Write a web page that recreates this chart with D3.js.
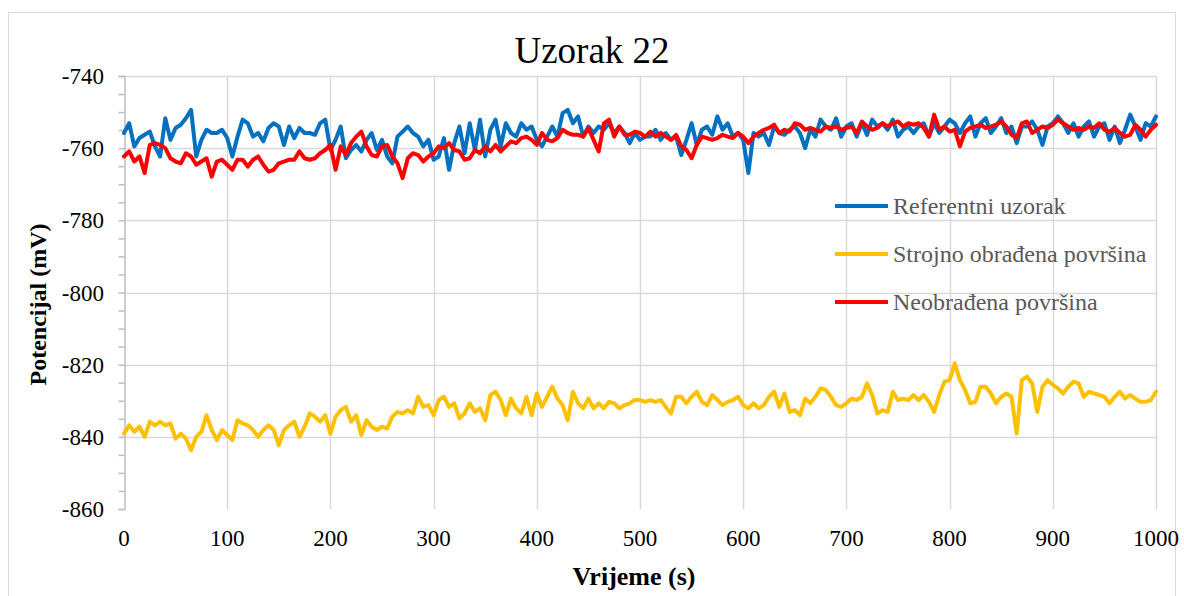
<!DOCTYPE html>
<html>
<head>
<meta charset="utf-8">
<script src="https://cdn.jsdelivr.net/npm/d3@7"></script>
<style>
  html, body { margin: 0; padding: 0; background: #fff; }
  svg { display: block; }
</style>
</head>
<body>
<svg id="chart" width="1184" height="596"></svg>
<script>
// Time axis: one reading every 5 s from 0 to 1000 s
const times = d3.range(0, 1001, 5);

const xTicks = [0, 100, 200, 300, 400, 500, 600, 700, 800, 900, 1000];
const yTicks = [-740, -760, -780, -800, -820, -840, -860];

const seriesNames = ["Referentni uzorak", "Strojno obrađena površina", "Neobrađena površina"];

// Referentni uzorak (mV)
const referentni = [
  -755.8,-753.1,-759.5,-757.2,-756.3,-755.4,-759.5,-762.3,-751.7,-757.7,
  -754.4,-753.5,-751.7,-749.4,-762.3,-757.7,-754.9,-755.8,-755.8,-754.9,
  -757.2,-762.3,-756.8,-752.1,-753.1,-756.8,-755.8,-758.1,-754.4,-753.1,
  -754.0,-759.1,-754.0,-757.2,-754.4,-755.8,-755.8,-756.3,-753.1,-752.1,
  -760.5,-757.7,-754.0,-762.8,-760.5,-759.1,-760.9,-757.7,-755.8,-760.5,
  -757.7,-762.3,-764.2,-756.8,-755.4,-754.0,-755.8,-756.8,-759.5,-757.7,
  -763.2,-762.3,-757.2,-766.0,-758.6,-754.0,-761.4,-753.1,-760.5,-752.1,
  -762.3,-754.9,-752.1,-759.5,-753.1,-755.8,-756.8,-753.1,-754.9,-754.0,
  -757.7,-759.5,-756.8,-754.0,-756.8,-750.3,-749.4,-753.1,-751.2,-756.8,
  -754.0,-755.8,-754.0,-754.9,-753.1,-755.8,-754.0,-755.8,-758.6,-755.8,
  -757.7,-756.8,-756.8,-754.9,-757.7,-755.8,-757.7,-756.8,-761.9,-757.7,
  -753.1,-759.1,-754.9,-754.0,-756.3,-751.2,-754.9,-753.1,-756.8,-755.8,
  -757.7,-766.9,-755.8,-756.8,-755.8,-759.1,-754.0,-755.8,-756.3,-754.9,
  -754.0,-755.8,-760.0,-754.9,-756.8,-752.1,-754.0,-754.9,-751.7,-756.8,
  -754.0,-753.1,-756.8,-753.1,-756.3,-752.1,-754.0,-753.1,-754.9,-752.1,
  -756.8,-754.9,-754.0,-755.8,-754.0,-753.1,-756.8,-753.1,-755.8,-754.0,
  -752.1,-753.1,-755.8,-753.1,-751.2,-756.8,-753.1,-751.7,-755.8,-754.0,
  -751.7,-755.8,-754.0,-758.6,-754.0,-754.0,-752.6,-754.9,-759.1,-754.0,
  -753.1,-751.2,-753.1,-755.8,-753.1,-756.8,-754.0,-752.6,-756.8,-754.0,
  -753.1,-757.7,-754.0,-758.6,-754.9,-750.7,-754.0,-757.7,-753.1,-754.0,
  -751.2
];

// Strojno obrađena površina (mV)
const strojno = [
  -839.1,-836.8,-838.6,-837.2,-840.0,-835.8,-836.8,-835.8,-836.8,-836.3,
  -840.5,-839.1,-840.5,-843.7,-840.0,-838.6,-834.0,-838.1,-840.9,-838.1,
  -839.5,-840.9,-835.4,-836.3,-836.8,-838.1,-840.0,-838.1,-836.8,-838.1,
  -842.3,-838.1,-836.8,-835.8,-840.0,-837.2,-833.5,-834.4,-835.8,-834.0,
  -839.1,-834.4,-832.6,-831.7,-835.8,-834.0,-839.5,-835.4,-837.2,-838.1,
  -837.2,-837.7,-834.4,-833.1,-833.5,-832.6,-833.5,-828.9,-831.7,-831.2,
  -834.0,-829.8,-828.9,-831.7,-830.7,-834.9,-833.5,-830.7,-833.1,-832.1,
  -835.4,-828.4,-827.5,-829.8,-834.0,-829.4,-832.1,-833.5,-828.9,-834.0,
  -828.0,-831.7,-828.9,-826.1,-829.4,-831.2,-835.4,-827.5,-830.7,-832.1,
  -829.4,-832.1,-830.7,-832.1,-830.3,-830.7,-832.1,-831.2,-830.7,-829.8,
  -829.8,-830.3,-829.8,-830.3,-829.8,-831.7,-833.5,-828.9,-828.9,-830.7,
  -828.9,-827.5,-830.3,-831.2,-828.4,-829.8,-831.2,-830.3,-829.8,-828.9,
  -831.2,-832.1,-830.7,-832.1,-831.2,-828.9,-827.5,-831.7,-828.0,-833.1,
  -832.6,-834.0,-829.4,-830.7,-828.9,-826.6,-827.0,-828.9,-831.2,-831.7,
  -830.7,-829.4,-829.8,-828.9,-825.2,-828.4,-833.5,-832.6,-833.1,-827.5,
  -829.8,-829.4,-829.8,-828.4,-829.8,-828.4,-830.3,-833.1,-828.4,-824.7,
  -824.3,-819.6,-824.3,-827.0,-830.7,-830.3,-826.1,-826.1,-828.0,-830.7,
  -828.9,-828.0,-828.9,-839.1,-824.3,-823.3,-825.2,-833.1,-826.1,-824.3,
  -825.6,-826.6,-828.0,-826.1,-824.7,-825.2,-828.9,-827.5,-828.0,-828.4,
  -828.9,-830.7,-828.9,-827.5,-829.4,-828.4,-829.4,-830.3,-830.3,-829.8,
  -827.5
];

// Neobrađena površina (mV)
const neobradjena = [
  -762.3,-760.9,-763.7,-762.3,-766.9,-759.1,-758.6,-759.1,-760.0,-762.8,
  -763.7,-764.2,-761.4,-762.3,-764.6,-763.7,-762.8,-767.9,-763.7,-763.2,
  -764.6,-766.0,-763.2,-763.2,-765.1,-763.2,-762.3,-764.6,-766.5,-766.0,
  -764.2,-763.7,-763.2,-763.2,-760.9,-762.8,-763.2,-762.8,-761.4,-760.5,
  -759.1,-766.0,-759.5,-761.9,-758.6,-756.8,-755.4,-759.5,-761.9,-762.3,
  -759.5,-759.1,-762.3,-764.2,-768.3,-762.8,-761.4,-761.9,-763.7,-762.3,
  -761.4,-759.5,-760.0,-758.6,-760.5,-760.9,-763.2,-762.8,-760.5,-761.4,
  -759.5,-760.9,-759.1,-760.9,-759.5,-758.1,-758.6,-757.2,-756.8,-757.7,
  -759.1,-755.8,-757.7,-758.1,-757.2,-754.9,-755.8,-756.3,-756.3,-756.8,
  -754.4,-757.7,-760.9,-753.1,-752.1,-756.8,-754.0,-756.3,-756.3,-755.4,
  -755.8,-756.8,-755.4,-756.8,-755.8,-756.8,-757.7,-756.3,-759.5,-760.5,
  -762.8,-759.1,-756.8,-757.2,-757.7,-757.2,-756.3,-756.8,-757.2,-755.8,
  -756.8,-758.6,-756.8,-755.8,-754.9,-754.4,-753.5,-755.8,-754.9,-755.4,
  -753.1,-753.5,-754.9,-754.4,-754.9,-755.4,-754.0,-754.4,-754.0,-754.9,
  -754.4,-754.0,-755.8,-752.6,-754.0,-754.9,-754.4,-753.1,-754.0,-753.1,
  -752.6,-754.0,-753.1,-753.5,-753.1,-754.4,-756.8,-750.7,-754.9,-754.0,
  -755.4,-754.9,-759.5,-755.4,-754.4,-754.0,-753.5,-754.4,-754.0,-753.5,
  -752.6,-754.0,-756.3,-757.2,-753.1,-752.6,-755.8,-754.9,-754.0,-754.4,
  -753.5,-752.1,-753.1,-754.0,-754.9,-754.4,-754.9,-754.0,-754.4,-753.1,
  -754.9,-755.4,-754.4,-755.8,-756.8,-756.3,-753.5,-754.9,-756.8,-754.9,
  -753.5
];

const colors = ["#0070C0", "#FFC000", "#FF0000"];
const seriesValues = [referentni, strojno, neobradjena];

const svg = d3.select("#chart");
const plot = { left: 124, right: 1156, top: 76, bottom: 509 };
const gridColor = "#D9D9D9";
const axisColor = "#BFBFBF";
const serif = "'Liberation Serif', 'Times New Roman', serif";

// outer chart frame
svg.append("rect")
  .attr("x", 8.5).attr("y", 12.5)
  .attr("width", 1167).attr("height", 600)
  .attr("fill", "#fff").attr("stroke", gridColor).attr("stroke-width", 1);

const x = d3.scaleLinear().domain([0, 1000]).range([plot.left, plot.right]);
const y = d3.scaleLinear().domain([-860, -740]).range([plot.bottom, plot.top]);

// horizontal gridlines (none at the bottom edge)
svg.append("g")
  .selectAll("line")
  .data(yTicks.filter(v => v !== -860))
  .join("line")
  .attr("x1", plot.left).attr("x2", plot.right)
  .attr("y1", d => Math.round(y(d)) + 0.5).attr("y2", d => Math.round(y(d)) + 0.5)
  .attr("stroke", gridColor).attr("stroke-width", 1.5);

// vertical gridlines
svg.append("g")
  .selectAll("line")
  .data(xTicks.filter(v => v !== 0))
  .join("line")
  .attr("x1", d => Math.round(x(d)) + 0.5).attr("x2", d => Math.round(x(d)) + 0.5)
  .attr("y1", plot.top).attr("y2", plot.bottom)
  .attr("stroke", gridColor).attr("stroke-width", 1.5);

// y axis with minor ticks every 5 mV
const yAxis = d3.axisLeft(y)
  .tickValues(d3.range(-860, -739, 5))
  .tickSize(6)
  .tickFormat("");
const gy = svg.append("g")
  .attr("transform", `translate(${plot.left + 0.5},0)`)
  .call(yAxis);
gy.select(".domain").attr("stroke", axisColor).attr("stroke-width", 1.5);
gy.selectAll(".tick line").attr("stroke", axisColor).attr("stroke-width", 1.5);

// y tick labels
svg.append("g")
  .selectAll("text")
  .data(yTicks)
  .join("text")
  .attr("x", 104).attr("y", d => y(d))
  .attr("dy", "0.35em")
  .attr("text-anchor", "end")
  .attr("font-family", serif).attr("font-size", 23).attr("fill", "#000")
  .text(d => d);

// x tick labels
svg.append("g")
  .selectAll("text")
  .data(xTicks)
  .join("text")
  .attr("x", d => x(d)).attr("y", 538)
  .attr("dy", "0.35em")
  .attr("text-anchor", "middle")
  .attr("font-family", serif).attr("font-size", 23).attr("fill", "#000")
  .text(d => d);

// series lines
const line = d3.line()
  .x((d, i) => x(times[i]))
  .y(d => y(d));

svg.append("g")
  .selectAll("path")
  .data(seriesValues)
  .join("path")
  .attr("d", d => line(d))
  .attr("fill", "none")
  .attr("stroke", (d, i) => colors[i])
  .attr("stroke-width", 4)
  .attr("stroke-linejoin", "round")
  .attr("stroke-linecap", "round");

// title
svg.append("text")
  .attr("x", 592).attr("y", 63)
  .attr("text-anchor", "middle")
  .attr("font-family", serif).attr("font-size", 37).attr("fill", "#000")
  .text("Uzorak 22");

// axis titles
svg.append("text")
  .attr("x", 634).attr("y", 585)
  .attr("text-anchor", "middle")
  .attr("font-family", serif).attr("font-size", 26).attr("font-weight", "bold").attr("fill", "#000")
  .text("Vrijeme (s)");

svg.append("text")
  .attr("transform", `translate(46,${(plot.top + plot.bottom) / 2 + 12}) rotate(-90)`)
  .attr("text-anchor", "middle")
  .attr("font-family", serif).attr("font-size", 24).attr("font-weight", "bold").attr("fill", "#000")
  .text("Potencijal (mV)");

// legend
const legend = svg.append("g");
const legendY = [206, 254, 302];
seriesNames.forEach((name, i) => {
  legend.append("line")
    .attr("x1", 835).attr("x2", 888)
    .attr("y1", legendY[i]).attr("y2", legendY[i])
    .attr("stroke", colors[i]).attr("stroke-width", 4);
  legend.append("text")
    .attr("x", 893).attr("y", legendY[i])
    .attr("dy", "0.33em")
    .attr("font-family", serif).attr("font-size", 24).attr("fill", "#595959")
    .text(name);
});
</script>
</body>
</html>
